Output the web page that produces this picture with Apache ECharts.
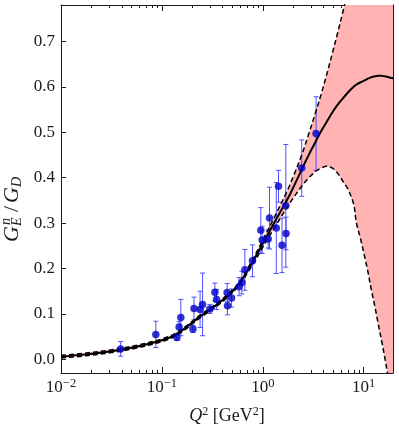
<!DOCTYPE html>
<html><head><meta charset="utf-8">
<script src="https://cdn.jsdelivr.net/npm/echarts@6/dist/echarts.min.js"></script>
<style>html,body{margin:0;padding:0;background:#fff}#c{width:399px;height:436px}</style>
</head><body><div id="c"></div><script>
// Fit band (Q^2 in GeV^2)
const bandQ2 = [0.01, 0.0178, 0.0316, 0.0562, 0.1, 0.133, 0.178, 0.237, 0.316, 0.422, 0.562, 0.75, 1.0, 1.33, 1.78, 2.0, 2.43, 2.82, 3.35, 3.8, 4.27, 4.9, 5.5, 6.3, 7.0, 7.94, 8.47, 9.33, 10.2, 11.0, 11.9, 12.9, 13.9, 15.0, 16.1, 17.2, 18.2, 19.5];
const centralVals = [0.006, 0.011, 0.018, 0.028, 0.042, 0.053, 0.072, 0.094, 0.113, 0.135, 0.162, 0.205, 0.255, 0.305, 0.355, 0.378, 0.418, 0.448, 0.480, 0.503, 0.522, 0.544, 0.560, 0.576, 0.588, 0.600, 0.605, 0.610, 0.614, 0.618, 0.621, 0.623, 0.624, 0.624, 0.623, 0.622, 0.620, 0.619];
const lowerVals = [0.003, 0.008, 0.015, 0.025, 0.039, 0.050, 0.069, 0.091, 0.110, 0.132, 0.159, 0.200, 0.247, 0.293, 0.338, 0.355, 0.381, 0.398, 0.414, 0.421, 0.425, 0.421, 0.410, 0.390, 0.374, 0.342, 0.300, 0.264, 0.2265, 0.193, 0.153, 0.116, 0.079, 0.042, 0.006, -0.030, -0.060, -0.100];
const upperVals = [0.009, 0.014, 0.021, 0.031, 0.045, 0.056, 0.075, 0.097, 0.116, 0.138, 0.165, 0.210, 0.263, 0.317, 0.375, 0.402, 0.450, 0.493, 0.545, 0.585, 0.625, 0.675, 0.718, 0.77, 0.81, 0.86, 0.885, 0.92, 0.955, 0.985, 1.01, 1.04, 1.07, 1.10, 1.13, 1.15, 1.17, 1.2];
// Measurements
const dataQ2 = [0.039, 0.087, 0.141, 0.148, 0.154, 0.203, 0.208, 0.239, 0.253, 0.299, 0.335, 0.348, 0.443, 0.447, 0.49, 0.582, 0.62, 0.664, 0.79, 0.955, 0.985, 1.13, 1.165, 1.36, 1.43, 1.55, 1.69, 1.70, 2.43, 3.37];
const dataVals = [0.023, 0.055, 0.048, 0.071, 0.092, 0.067, 0.112, 0.110, 0.121, 0.111, 0.148, 0.132, 0.147, 0.118, 0.135, 0.160, 0.169, 0.197, 0.217, 0.284, 0.263, 0.265, 0.311, 0.289, 0.381, 0.251, 0.338, 0.277, 0.421, 0.497];
const dataErrs = [0.016, 0.029, 0.006, 0.012, 0.040, 0.008, 0.025, 0.040, 0.069, 0.010, 0.020, 0.022, 0.020, 0.020, 0.020, 0.020, 0.025, 0.045, 0.035, 0.050, 0.030, 0.020, 0.068, 0.100, 0.035, 0.060, 0.135, 0.036, 0.062, 0.081];
// Ticks
const yTicks = [0.0, 0.1, 0.2, 0.3, 0.4, 0.5, 0.6, 0.7];
const xMinorTicks = [0.02,0.03,0.04,0.05,0.06,0.07,0.08,0.09,0.2,0.3,0.4,0.5,0.6,0.7,0.8,0.9,2,3,4,5,6,7,8,9];
const xMin = 0.01, xMax = 19.5, yMin = -0.03, yMax = 0.78;

const FONT = '"Liberation Serif", "DejaVu Serif", serif';
const INK = '#1a1a1a';
const chart = echarts.init(document.getElementById('c'), null, {renderer: 'canvas'});

const logMinorVals = xMinorTicks.map(v => Math.log10(v));
function decadeLabel(v) {
  const e = Math.log10(v);
  const r = Math.round(e);
  if (Math.abs(e - r) > 1e-6) return '';
  return '{b|10}{s|' + (r < 0 ? '\u2212' : '') + Math.abs(r) + '}';
}
const majorX = (pos, showLabel) => ({
  type: 'log', logBase: 10, min: xMin, max: xMax, position: pos, gridIndex: 0,
  axisLine: {show: true, onZero: false, lineStyle: {color: INK, width: 1}},
  axisTick: {show: true, inside: true, length: 6, lineStyle: {color: INK, width: 1}},
  axisLabel: {show: showLabel, formatter: decadeLabel, margin: 4, showMaxLabel: false,
    rich: {b: {fontSize: 17, fontFamily: FONT, color: INK}, s: {fontSize: 12.5, fontFamily: FONT, color: INK, padding: [0,0,9,0]}}},
  splitLine: {show: false}
});
const minorX = (pos) => ({
  type: 'value', min: Math.log10(xMin), max: Math.log10(xMax), position: pos, gridIndex: 0,
  axisLine: {show: false, onZero: false},
  axisTick: {show: true, inside: true, length: 3, customValues: logMinorVals, lineStyle: {color: INK, width: 1}},
  axisLabel: {show: false}, splitLine: {show: false}
});
const yAx = (pos, showLabel) => ({
  type: 'value', min: yMin, max: yMax, position: pos, gridIndex: 0,
  axisLine: {show: true, onZero: false, lineStyle: {color: INK, width: 1}},
  axisTick: {show: true, inside: true, length: 5, customValues: yTicks, lineStyle: {color: INK, width: 1}},
  axisLabel: {show: showLabel, customValues: yTicks, formatter: v => v.toFixed(1), fontSize: 17, fontFamily: FONT, color: INK, margin: 6},
  splitLine: {show: false}
});

const xAxes = [majorX('bottom', true), minorX('bottom'), majorX('top', false), minorX('top')];
xAxes[0].name = '{i|Q}{s|2} [GeV{s|2}]';
xAxes[0].nameLocation = 'middle';
xAxes[0].nameGap = 33;
xAxes[0].nameTextStyle = {fontSize: 18, fontFamily: FONT, color: INK,
  rich: {i: {fontSize: 18, fontStyle: 'italic', fontFamily: FONT, color: INK}, s: {fontSize: 12, fontFamily: FONT, color: INK, padding: [0,0,9,0]}}};

const option = {
  animation: false,
  backgroundColor: '#fff',
  grid: {left: 61, right: 6, top: 5, bottom: 63, containLabel: false},
  xAxis: xAxes,
  yAxis: [yAx('left', true), yAx('right', false)],
  graphic: [{
    type: 'group', x: 23, y: 242, rotation: Math.PI / 2,
    children: [
      {type: 'text', x: 0, y: 0, style: {text: 'G', fontSize: 22, fontStyle: 'italic', fontFamily: FONT, fill: INK, align: 'left', verticalAlign: 'bottom'}},
      {type: 'text', x: 17, y: -10, style: {text: 'n', fontSize: 14, fontStyle: 'italic', fontFamily: FONT, fill: INK, align: 'left', verticalAlign: 'bottom'}},
      {type: 'text', x: 16, y: 1, style: {text: 'E', fontSize: 14, fontStyle: 'italic', fontFamily: FONT, fill: INK, align: 'left', verticalAlign: 'bottom'}},
      {type: 'text', x: 30, y: 0, style: {text: '/', fontSize: 22, fontFamily: FONT, fill: INK, align: 'left', verticalAlign: 'bottom'}},
      {type: 'text', x: 39, y: 0, style: {text: 'G', fontSize: 22, fontStyle: 'italic', fontFamily: FONT, fill: INK, align: 'left', verticalAlign: 'bottom'}},
      {type: 'text', x: 55, y: 1, style: {text: 'D', fontSize: 14, fontStyle: 'italic', fontFamily: FONT, fill: INK, align: 'left', verticalAlign: 'bottom'}}
    ]
  }],
  series: [
    {
      type: 'custom', name: 'band', xAxisIndex: 0, yAxisIndex: 0, clip: true, silent: true, z: 1,
      data: bandQ2.map((q, i) => [q, lowerVals[i], upperVals[i]]),
      encode: {x: 0, y: [1, 2]},
      renderItem: (params, api) => {
        if (params.dataIndex !== 0) return null;
        const pts = [];
        for (let i = 0; i < bandQ2.length; i++) pts.push(api.coord([bandQ2[i], upperVals[i]]));
        for (let i = bandQ2.length - 1; i >= 0; i--) pts.push(api.coord([bandQ2[i], lowerVals[i]]));
        return {type: 'polygon', shape: {points: pts, smooth: 0}, style: {fill: '#ffb3b3'}};
      }
    },
    {
      type: 'custom', name: 'errors', xAxisIndex: 0, yAxisIndex: 0, clip: true, silent: true, z: 3,
      data: dataQ2.map((q, i) => [q, dataVals[i] - dataErrs[i], dataVals[i] + dataErrs[i]]),
      encode: {x: 0, y: [1, 2]},
      renderItem: (params, api) => {
        const lo = api.coord([api.value(0), api.value(1)]);
        const hi = api.coord([api.value(0), api.value(2)]);
        const w = 2.5, st = {stroke: '#4f4fff', lineWidth: 1};
        return {type: 'group', children: [
          {type: 'line', shape: {x1: lo[0], y1: lo[1], x2: hi[0], y2: hi[1]}, style: st},
          {type: 'line', shape: {x1: lo[0] - w, y1: lo[1], x2: lo[0] + w, y2: lo[1]}, style: st},
          {type: 'line', shape: {x1: hi[0] - w, y1: hi[1], x2: hi[0] + w, y2: hi[1]}, style: st}
        ]};
      }
    },
    {
      type: 'line', name: 'lower', xAxisIndex: 0, yAxisIndex: 0, symbol: 'none', clip: true, z: 4, silent: true,
      data: bandQ2.map((q, i) => [q, lowerVals[i]]), smooth: 0.35,
      lineStyle: {color: '#000', width: 1.5, type: [5, 3]}
    },
    {
      type: 'line', name: 'upper', xAxisIndex: 0, yAxisIndex: 0, symbol: 'none', clip: true, z: 4, silent: true,
      data: bandQ2.map((q, i) => [q, upperVals[i]]), smooth: 0.35,
      lineStyle: {color: '#000', width: 1.5, type: [5, 3]}
    },
    {
      type: 'line', name: 'central', xAxisIndex: 0, yAxisIndex: 0, symbol: 'none', clip: true, z: 5, silent: true,
      data: bandQ2.map((q, i) => [q, centralVals[i]]), smooth: 0.4,
      lineStyle: {color: '#000', width: 2}
    },
    {
      type: 'scatter', name: 'data', xAxisIndex: 0, yAxisIndex: 0, symbol: 'circle', symbolSize: 7.5, z: 6, silent: true,
      data: dataQ2.map((q, i) => [q, dataVals[i]]),
      itemStyle: {color: '#0000c8'}
    }
  ]
};
chart.setOption(option);
</script></body></html>
